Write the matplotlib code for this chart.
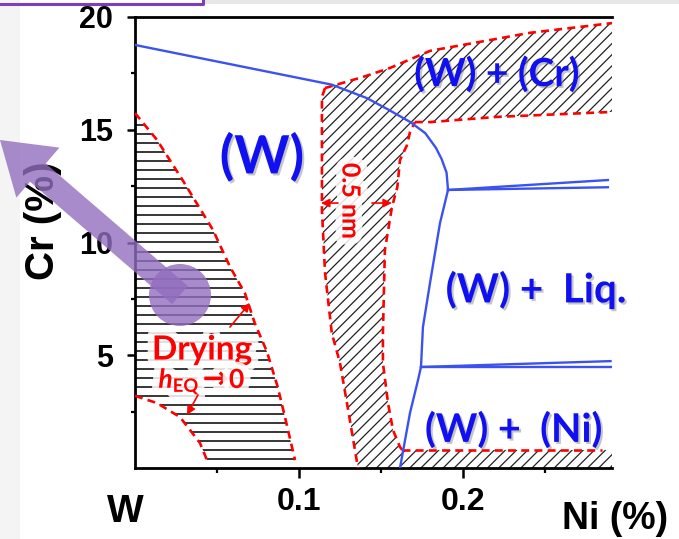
import matplotlib
matplotlib.use("Agg")
import numpy as np
import matplotlib.pyplot as plt
import matplotlib.patheffects as pe
from matplotlib.patches import Polygon, FancyArrow, Circle, Rectangle
from matplotlib.lines import Line2D
from matplotlib.collections import LineCollection
from matplotlib.transforms import IdentityTransform, blended_transform_factory
from matplotlib.ticker import FixedLocator

# ---------------------------------------------------------------- data
# solid phase boundary of the (W) field
solvus_ni = [0.0, 0.120, 0.1415, 0.1543, 0.1677, 0.177, 0.1835, 0.187, 0.190, 0.1909]
solvus_cr = [18.76, 17.0, 16.4, 15.9, 15.35, 14.85, 14.2, 13.7, 13.1, 12.33]
liquidus_ni = [0.1909, 0.186, 0.1799, 0.1756, 0.1744, 0.1726, 0.1677, 0.1616]
liquidus_cr = [12.33, 10.86, 8.2, 6.25, 4.48, 3.9, 2.44, 0.0]

# double tie lines into the two-phase fields
upper_tie_ni = [0.1909, 0.2884]
upper_tie_cr_low = [12.33, 12.45]
upper_tie_cr_high = [12.33, 12.77]
lower_tie_ni = [0.1744, 0.29]
lower_tie_cr_low = [4.48, 4.48]
lower_tie_cr_high = [4.48, 4.74]

# drying band (horizontal hatch)
drying_edge_ni = [0.0, 0.0134, 0.029, 0.0476, 0.058, 0.067, 0.073, 0.0805, 0.087, 0.091, 0.0976]
drying_edge_cr = [15.74, 14.55, 12.77, 10.55, 8.91, 7.76, 6.43, 5.15, 3.6, 2.4, 0.35]
heq_edge_ni = [0.0, 0.0134, 0.0274, 0.0335, 0.0396, 0.0439]
heq_edge_cr = [3.2, 2.88, 2.26, 1.69, 1.11, 0.35]

# 0.5 nm film band (diagonal hatch)
film_left_ni = [0.1159, 0.114, 0.114, 0.1159, 0.120, 0.125, 0.130, 0.136]
film_left_cr = [16.85, 16.45, 11.44, 8.65, 5.99, 4.66, 2.57, 0.0]
film_right_ni = [0.163, 0.1616, 0.1573, 0.1543, 0.1512, 0.1512, 0.1524, 0.1567, 0.160, 0.1616, 0.1659, 0.1677, 0.1707]
film_right_cr = [0.8, 0.93, 1.69, 2.88, 4.66, 5.99, 9.67, 11.57, 12.46, 13.66, 14.32, 14.9, 15.34]

# (W) + (Cr) band
cr_top_ni = [0.1159, 0.139, 0.1555, 0.18, 0.241, 0.291]
cr_top_cr = [16.85, 17.34, 17.74, 18.5, 19.3, 19.73]
cr_bottom_ni = [0.1707, 0.18, 0.2207, 0.291]
cr_bottom_cr = [15.34, 15.34, 15.57, 15.79]

# (W) + (Ni) strip
ni_top_ni = [0.163, 0.285]
ni_top_cr = [0.8, 0.8]

x_major = [0.1, 0.2]
x_major_labels = ["0.1", "0.2"]
y_major = [5, 10, 15, 20]
y_major_labels = ["5", "10", "15", "20"]

# ---------------------------------------------------------------- style
BLUE_LINE = "#3b52f0"
BLUE_TEXT = "#1010f0"
RED = "#ff0000"
W_PX, H_PX, DPI = 679, 539, 100
HATCH_STEP_CR = 0.4          # spacing of the horizontal rules in the drying band

plt.rcParams["hatch.linewidth"] = 0.9
plt.rcParams["mathtext.fontset"] = "custom"
plt.rcParams["mathtext.it"] = "Lato:italic:bold"
plt.rcParams["mathtext.rm"] = "Lato:bold"
tick_font = ["Liberation Sans", "DejaVu Sans"]
label_font = ["Lato", "DejaVu Sans"]

fig = plt.figure(figsize=(W_PX / DPI, H_PX / DPI), dpi=DPI)
fig.patch.set_facecolor("white")

# light grey strips on the canvas edges
fig.add_artist(Rectangle((0, 0), 20, H_PX, transform=IdentityTransform(),
                         facecolor="#f4f4f4", edgecolor="none", zorder=0))
fig.add_artist(Rectangle((204, H_PX - 4), W_PX - 204, 4, transform=IdentityTransform(),
                         facecolor="#e7e7e7", edgecolor="none", zorder=0))
fig.add_artist(Line2D([0, 203, 203], [H_PX - 3.5, H_PX - 3.5, H_PX],
                      transform=IdentityTransform(), color="#7b40b8", lw=2.2))

ax = fig.add_axes([135 / W_PX, 71 / H_PX, (612 - 135) / W_PX, (468 - 17) / H_PX])
ax.set_facecolor("none")
ax.set_xlim(0, 0.2909)
ax.set_ylim(0, 20)

for side in ("left", "bottom", "top"):
    ax.spines[side].set_linewidth(2.0)
ax.spines["right"].set_visible(False)

ax.xaxis.set_major_locator(FixedLocator(x_major))
ax.set_xticklabels(x_major_labels)
ax.xaxis.set_minor_locator(FixedLocator([0.05, 0.15, 0.25]))
ax.yaxis.set_major_locator(FixedLocator(y_major))
ax.set_yticklabels(y_major_labels)
ax.yaxis.set_minor_locator(FixedLocator([2.5, 7.5, 12.5, 17.5]))
ax.tick_params(axis="x", which="major", direction="out", length=7, width=1.8, pad=7)
ax.tick_params(axis="x", which="minor", direction="out", length=3.5, width=1.6)
ax.tick_params(axis="y", which="major", direction="out", length=6, width=1.8, pad=10)
ax.tick_params(axis="y", which="minor", direction="out", length=3, width=1.6)
for lab in ax.get_xticklabels():
    lab.set_fontfamily(tick_font); lab.set_fontsize(23); lab.set_fontweight("bold")
for lab in ax.get_yticklabels():
    lab.set_fontfamily(tick_font); lab.set_fontsize(22); lab.set_fontweight("bold")

# "W" at the origin of the Ni axis
ax.text(-0.006, -0.097, "W", transform=blended_transform_factory(ax.transData, ax.transAxes),
        ha="center", va="center", fontsize=28, fontweight="bold", family=tick_font)
fig.text(615 / W_PX, 1 - 519 / H_PX, "Ni (%)", ha="center", va="center",
         fontsize=27, fontweight="bold", family=tick_font)
fig.text(43 / W_PX, 1 - 221 / H_PX, "Cr (%)", ha="center", va="center", rotation=90,
         fontsize=29, fontweight="bold", family=tick_font)

# ---------------------------------------------------------------- hatched bands
drying_poly = Polygon(list(zip(drying_edge_ni, drying_edge_cr)) +
                      list(zip(heq_edge_ni[::-1], heq_edge_cr[::-1])),
                      closed=True, facecolor="none", edgecolor="none", linewidth=0)
ax.add_patch(drying_poly)
rule_levels = np.arange(min(drying_edge_cr) + 0.05, max(drying_edge_cr), HATCH_STEP_CR)
rules = LineCollection([[(0.0, c), (max(drying_edge_ni), c)] for c in rule_levels],
                       colors="#000000", linewidths=1.1, zorder=1)
ax.add_collection(rules)
rules.set_clip_path(drying_poly)

film_poly = list(zip(film_left_ni, film_left_cr)) + [(0.2915, 0.0), (0.2915, 0.8)] + \
    list(zip(ni_top_ni[::-1], ni_top_cr[::-1])) + \
    list(zip(film_right_ni, film_right_cr)) + \
    list(zip(cr_bottom_ni, cr_bottom_cr)) + [(0.2915, 15.79), (0.2915, 19.73)] + \
    list(zip(cr_top_ni[::-1], cr_top_cr[::-1]))
ax.add_patch(Polygon(film_poly, closed=True, fill=False, hatch="///",
                     edgecolor="#222222", linewidth=0, zorder=1))

dash = dict(color=RED, lw=1.9, linestyle=(0, (3, 2)), zorder=3, solid_capstyle="butt")
ax.plot(drying_edge_ni, drying_edge_cr, **dash)
ax.plot(heq_edge_ni, heq_edge_cr, **dash)
ax.plot(film_left_ni, film_left_cr, **dash)
ax.plot(film_right_ni, film_right_cr, **dash)
ax.plot(cr_top_ni, cr_top_cr, **dash)
ax.plot(cr_bottom_ni, cr_bottom_cr, **dash)
ax.plot(ni_top_ni, ni_top_cr, **dash)

# ---------------------------------------------------------------- phase boundaries
line = dict(color=BLUE_LINE, lw=1.7, zorder=4, solid_joinstyle="round")
ax.plot(solvus_ni, solvus_cr, **line)
ax.plot(liquidus_ni, liquidus_cr, **line)
ax.plot(upper_tie_ni, upper_tie_cr_low, **line)
ax.plot(upper_tie_ni, upper_tie_cr_high, **line)
ax.plot(lower_tie_ni, lower_tie_cr_low, **line)
ax.plot(lower_tie_ni, lower_tie_cr_high, **line)

# ---------------------------------------------------------------- labels
shadow = [pe.SimplePatchShadow(offset=(1.5, -1.5), shadow_rgbFace="#808080", alpha=0.45), pe.Normal()]
halo = [pe.withStroke(linewidth=10, foreground="white", alpha=0.85)]
blue_kw = dict(color=BLUE_TEXT, fontweight="bold", family=label_font, ha="center",
               va="center", path_effects=shadow, zorder=6)
ax.text(0.0774, 13.79, "(W)", fontsize=38, **blue_kw)
ax.text(0.2207, 17.47, "(W) + (Cr)", fontsize=28, **blue_kw)
ax.text(0.2445, 7.89, "(W) +  Liq.", fontsize=29, **blue_kw)
ax.text(0.2311, 1.69, "(W) +  (Ni)", fontsize=28.5, **blue_kw)

red_kw = dict(color=RED, fontweight="bold", family=label_font,
              path_effects=halo, zorder=6)
ax.text(0.0409, 5.23, "Drying", fontsize=24, ha="center", va="center", **red_kw)
ax.text(0.0398, 3.55, r"$h_{\mathrm{EQ}}$", fontsize=19, ha="right", va="baseline", **red_kw)
ax.text(0.0412, 3.55, "\u2192", fontsize=22, ha="left", va="baseline",
        color=RED, fontweight="bold", family=["DejaVu Sans"], path_effects=halo, zorder=6)
ax.text(0.0573, 3.55, "0", fontsize=19, ha="left", va="baseline", **red_kw)
ax.text(0.1311, 11.84, "0.5 nm", fontsize=18, rotation=-90, ha="center", va="center", **red_kw)

arrow_kw = dict(arrowstyle="-|>,head_length=0.5,head_width=0.25", color=RED, lw=1.2,
                shrinkA=0, shrinkB=0)
ax.annotate("", xy=(0.0701, 7.32), xytext=(0.0579, 6.25), arrowprops=arrow_kw, zorder=6)
ax.annotate("", xy=(0.0317, 2.35), xytext=(0.0384, 3.24), arrowprops=arrow_kw, zorder=6)
ax.annotate("", xy=(0.1134, 11.75), xytext=(0.1238, 11.75), arrowprops=arrow_kw, zorder=6)
ax.annotate("", xy=(0.1567, 11.75), xytext=(0.1445, 11.75), arrowprops=arrow_kw, zorder=6)

# ---------------------------------------------------------------- purple pointer
PURPLE = "#926ebf"
tail = (180, H_PX - 295)
tip = (0, H_PX - 140)
fig.add_artist(FancyArrow(tail[0], tail[1], tip[0] - tail[0], tip[1] - tail[1], width=24,
                          head_width=66, head_length=50, length_includes_head=True,
                          transform=IdentityTransform(), facecolor=PURPLE, edgecolor="none",
                          alpha=0.8, zorder=10))
fig.add_artist(Circle(tail, 31, transform=IdentityTransform(), facecolor=PURPLE,
                      edgecolor="none", alpha=0.8, zorder=10))

fig.savefig("out.png", dpi=DPI)
